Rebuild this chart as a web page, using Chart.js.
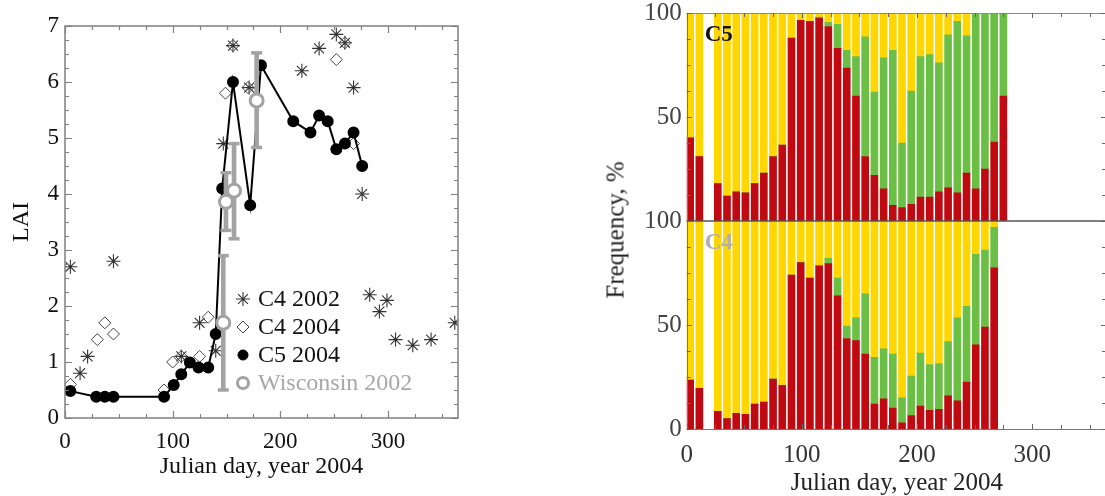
<!DOCTYPE html>
<html><head><meta charset="utf-8">
<script src="https://cdn.jsdelivr.net/npm/chart.js@4.4.1/dist/chart.umd.min.js"></script>
<style>
html,body{margin:0;padding:0;background:#fff;width:1105px;height:496px;overflow:hidden;position:relative;}
canvas{position:absolute;}
#freq{position:absolute;left:615px;top:230px;transform:translate(-50%,-50%) rotate(-90deg);font:25px "Liberation Serif","Times New Roman",serif;color:#222;white-space:nowrap;line-height:1;}
</style></head><body>
<canvas id="lai" width="470" height="496" style="left:0;top:0"></canvas>
<canvas id="c5" width="530" height="221" style="left:590px;top:0"></canvas>
<canvas id="c4" width="530" height="296" style="left:590px;top:200px"></canvas>
<div id="freq">Frequency, %</div>
<script>
// ---------- Left panel data (LAI) ----------
const c5Days = [5, 29, 37, 45, 92, 101, 108, 116, 124, 133, 140, 146, 156, 172, 182, 212, 228, 236, 244, 252, 260, 268, 276];
const c5Lai  = [0.48, 0.38, 0.38, 0.38, 0.38, 0.59, 0.78, 0.99, 0.9, 0.9, 1.5, 4.1, 6.0, 3.8, 6.3, 5.3, 5.1, 5.4, 5.3, 4.8, 4.9, 5.1, 4.5];
const c4y04Days = [5, 30, 37, 45, 92, 100, 108, 125, 133, 149, 156, 170, 252, 260, 268];
const c4y04Lai  = [0.6, 1.4, 1.7, 1.5, 0.5, 1.0, 1.1, 1.1, 1.8, 5.8, 6.65, 5.9, 6.4, 6.7, 4.9];
const c4y02Days = [5, 14, 21, 45, 108, 125, 140, 147, 156, 171, 220, 236, 252, 260, 268, 276, 283, 292, 299, 307, 323, 340, 362];
const c4y02Lai  = [2.7, 0.8, 1.1, 2.8, 1.1, 1.7, 1.2, 4.9, 6.65, 5.9, 6.2, 6.6, 6.85, 6.7, 5.9, 4.0, 2.2, 1.9, 2.1, 1.4, 1.3, 1.4, 1.7];
const wisDays = [147, 149.5, 157, 178];
const wisLai  = [1.7, 3.86, 4.06, 5.67];
const wisLo   = [0.5, 3.35, 3.2, 4.83];
const wisHi   = [2.9, 4.38, 4.9, 6.52];
const laiXTicks = [0, 100, 200, 300];
const laiYTicks = [0, 1, 2, 3, 4, 5, 6, 7];
const legendLabels = ['C4 2002', 'C4 2004', 'C5 2004', 'Wisconsin 2002'];

// ---------- Right panels data (frequency, %) ----------
const barDays = [3, 11, 19, 27, 35, 43, 51, 59, 67, 75, 83, 91, 99, 107, 115, 123, 131, 139, 147, 155, 163, 171, 179, 187, 195, 203, 211, 219, 227, 235, 243, 251, 259, 267, 275];
const c5Red    = [40, 31, null, 18, 12, 14, 13.5, 18, 23, 31, 36.5, 88, 96.5, 96, 97.5, 93.5, 83, 73.5, 60, 31, 22, 15.5, 7.5, 6.5, 8, 11.5, 11.5, 14, 16, 13.5, 23, 15.5, 25, 38, 60];
const c5Green  = [0, 0, null, 0, 0, 0, 0, 0, 0, 0, 0, 0, 0, 0, 0.5, 2, 11.5, 8.5, 19, 57.5, 40, 63, 74.5, 31, 54.5, 67.5, 68.5, 62, 73.5, 82.5, 66, 84, 75, 62, 40];
const c5Yellow = [60, 69, null, 82, 88, 86, 86.5, 82, 77, 69, 63.5, 12, 3.5, 4, 2, 4.5, 5.5, 18, 21, 11.5, 38, 21.5, 18, 62.5, 37.5, 21, 20, 24, 10.5, 4, 11, 0.5, 0, 0, 0];
const c4Red    = [23.5, 19.5, null, 8.5, 5, 7.5, 7, 12, 13, 24, 21, 74, 80, 72.5, 78.5, 79.5, 64, 43.5, 42.5, 36, 12, 14.5, 10, 3, 6.5, 11, 9, 9.5, 16, 13.5, 22.5, 40.5, 49, 77.5, null];
const c4Green  = [0, 0, null, 0, 0, 0, 0, 0, 0, 0, 0, 0, 0, 0, 0, 2.5, 8.5, 6, 11, 29, 22.5, 24, 26, 12, 19, 25.5, 22, 22, 26, 40, 36.5, 43.5, 37, 19.5, null];
const c4Yellow = [76.5, 80.5, null, 91.5, 95, 92.5, 93, 88, 87, 76, 79, 26, 20, 27.5, 21.5, 18, 27.5, 50.5, 46.5, 35, 65.5, 61.5, 64, 85, 74.5, 63.5, 69, 68.5, 58, 46.5, 41, 16, 14, 3, null];
const freqXTicks = [0, 100, 200, 300];
const freqYTicks = [0, 50, 100];

const SERIF = "'Liberation Serif', 'Times New Roman', serif";
Chart.defaults.font.family = SERIF;

const GRAY = '#a3a3a3';
function pts(xs, ys) { return xs.map((x, i) => ({x: x, y: ys[i]})); }
function noPad(s) { s.paddingTop = 0; s.paddingBottom = 0; s.paddingLeft = 0; s.paddingRight = 0; }

function drawSym(ctx, style, radius, bw, stroke, fill, x, y) {
  ctx.save();
  ctx.strokeStyle = stroke; ctx.fillStyle = fill; ctx.lineWidth = bw;
  Chart.helpers.drawPoint(ctx, {pointStyle: style, radius: radius, borderWidth: bw, rotation: 0}, x, y);
  ctx.restore();
}

function inwardTicks(ctx, chart, cfg) {
  const a = chart.chartArea, xs = chart.scales.x, ys = chart.scales.y;
  ctx.save();
  ctx.strokeStyle = cfg.color; ctx.lineWidth = cfg.width || 1;
  ctx.beginPath();
  for (let v = xs.min; v <= xs.max + 1e-9; v += cfg.xStep) {
    const px = Math.round(xs.getPixelForValue(v)) + 0.5;
    const len = (Math.abs(v % cfg.xMajor) < 1e-9) ? cfg.majorLen : cfg.minorLen;
    if (cfg.bottom) { ctx.moveTo(px, a.bottom); ctx.lineTo(px, a.bottom - len); }
    if (cfg.top) { ctx.moveTo(px, a.top); ctx.lineTo(px, a.top + len); }
  }
  for (let v = ys.min; v <= ys.max + 1e-9; v += cfg.yStep) {
    const py = Math.round(ys.getPixelForValue(v)) + 0.5;
    const len = (Math.abs(v % cfg.yMajor) < 1e-9) ? cfg.majorLen : cfg.minorLen;
    if (cfg.left) { ctx.moveTo(a.left, py); ctx.lineTo(a.left + len, py); }
    if (cfg.right) { const rx = cfg.rightX !== undefined ? cfg.rightX : a.right; ctx.moveTo(rx, py); ctx.lineTo(rx - len, py); }
  }
  ctx.stroke();
  ctx.restore();
}

// ---------- Left chart ----------
const laiDecor = {
  id: 'laiDecor',
  afterDatasetsDraw(chart) {
    const ctx = chart.ctx, a = chart.chartArea;
    ctx.save();
    ctx.strokeStyle = '#808080'; ctx.lineWidth = 1.5;
    ctx.strokeRect(a.left, a.top, a.right - a.left, a.bottom - a.top);
    ctx.restore();
    inwardTicks(ctx, chart, {color: '#808080', width: 1.2, xStep: 25, xMajor: 100, yStep: 0.25, yMajor: 1,
      majorLen: 7, minorLen: 4, top: true, bottom: true, left: true, right: true});
    // legend
    const sx = 243, tx = 258, rows = [299, 327, 355, 383];
    drawSym(ctx, 'star', 7, 1.1, '#333', 'rgba(0,0,0,0)', sx, rows[0]);
    drawSym(ctx, 'rectRot', 6, 1, '#444', 'rgba(0,0,0,0)', sx, rows[1]);
    drawSym(ctx, 'circle', 5, 1, '#000', '#000', sx, rows[2]);
    drawSym(ctx, 'circle', 5.5, 3, GRAY, '#fff', sx, rows[3]);
    ctx.save();
    ctx.font = '24px ' + SERIF; ctx.textBaseline = 'middle'; ctx.textAlign = 'left';
    legendLabels.forEach((t, i) => {
      ctx.fillStyle = i === 3 ? '#a8a8a8' : '#111';
      ctx.fillText(t, tx, rows[i] + 1);
    });
    ctx.restore();
  }
};

new Chart(document.getElementById('lai'), {
  type: 'scatter',
  data: {
    datasets: [
      {label: 'Wisconsin 2002', data: pts(wisDays, wisLai), pointStyle: 'circle', pointRadius: 6.5,
       pointBorderWidth: 3, pointBorderColor: GRAY, pointBackgroundColor: '#fff', order: 0},
      {label: 'caps low', data: pts(wisDays, wisLo), pointStyle: 'line', pointRadius: 5.5,
       pointBorderWidth: 3.5, pointBorderColor: GRAY, order: 1},
      {label: 'caps high', data: pts(wisDays, wisHi), pointStyle: 'line', pointRadius: 5.5,
       pointBorderWidth: 3.5, pointBorderColor: GRAY, order: 1},
      {type: 'bar', label: 'err', data: wisDays.map((d, i) => ({x: d, y: [wisLo[i], wisHi[i]]})),
       backgroundColor: GRAY, barThickness: 4, order: 2},
      {label: 'C5 2004', data: pts(c5Days, c5Lai), showLine: true, borderColor: '#000', borderWidth: 2,
       tension: 0, pointRadius: 5, pointBackgroundColor: '#000', pointBorderColor: '#000', order: 3},
      {label: 'C4 2004', data: pts(c4y04Days, c4y04Lai), pointStyle: 'rectRot', pointRadius: 6,
       pointBorderWidth: 1, pointBorderColor: '#444', pointBackgroundColor: 'rgba(0,0,0,0)', order: 4},
      {label: 'C4 2002', data: pts(c4y02Days, c4y02Lai), pointStyle: 'star', pointRadius: 7,
       pointBorderWidth: 1.1, pointBorderColor: '#333', pointBackgroundColor: '#333', order: 5}
    ]
  },
  options: {
    responsive: false, animation: false, devicePixelRatio: 1,
    layout: {padding: {top: 26, right: 12, left: 0, bottom: 0}},
    plugins: {legend: {display: false}, tooltip: {enabled: false}},
    scales: {
      x: {type: 'linear', min: 0, max: 365, offset: false,
          afterBuildTicks(s) { s.ticks = laiXTicks.map(v => ({value: v})); },
          afterFit(s) { s.height = 78; noPad(s); },
          grid: {display: false, drawTicks: false}, border: {display: false},
          ticks: {font: {size: 23}, color: '#111', padding: 10, maxRotation: 0, autoSkip: false},
          title: {display: true, text: 'Julian day, year 2004', font: {size: 24}, color: '#111', padding: {top: 0, bottom: 15}}},
      y: {type: 'linear', min: 0, max: 7,
          afterBuildTicks(s) { s.ticks = laiYTicks.map(v => ({value: v})); },
          afterFit(s) { s.width = 65; noPad(s); },
          grid: {display: false, drawTicks: false}, border: {display: false},
          ticks: {font: {size: 23}, color: '#111', padding: 6},
          title: {display: true, text: 'LAI', font: {size: 24}, color: '#111', padding: {top: 7, bottom: 0}}}
    }
  },
  plugins: [laiDecor]
});

// ---------- Right charts ----------
const RED = '#c00a12', GREEN = '#6cbf45', YELLOW = '#ffd600';
function freqChart(id, red, green, yellow, o) {
  const decor = {
    id: 'decor' + id,
    afterDatasetsDraw(chart) {
      const ctx = chart.ctx, a = chart.chartArea, W = chart.width;
      ctx.save();
      ctx.lineWidth = 1;
      if (o.upper) {
        ctx.strokeStyle = '#8a8a8a';
        ctx.beginPath(); ctx.moveTo(a.left, a.top + 0.5); ctx.lineTo(W, a.top + 0.5); ctx.stroke();
      } else {
        ctx.strokeStyle = '#555'; ctx.lineWidth = 1.5;
        ctx.beginPath(); ctx.moveTo(a.left, a.top); ctx.lineTo(W, a.top); ctx.stroke();
        ctx.strokeStyle = '#777'; ctx.lineWidth = 1;
        ctx.beginPath(); ctx.moveTo(a.left, a.bottom + 0.5); ctx.lineTo(W, a.bottom + 0.5); ctx.stroke();
      }
      ctx.strokeStyle = '#777';
      ctx.beginPath(); ctx.moveTo(Math.round(a.left) + 0.5, a.top); ctx.lineTo(Math.round(a.left) + 0.5, a.bottom); ctx.stroke();
      ctx.restore();
      inwardTicks(ctx, chart, {color: '#666', width: 1, xStep: 25, xMajor: 100, yStep: 12.5, yMajor: 50,
        majorLen: 5, minorLen: 4, top: o.upper, bottom: !o.upper, left: true, right: true, rightX: 516});
      ctx.save();
      ctx.font = 'bold 23px ' + SERIF; ctx.textBaseline = 'middle'; ctx.textAlign = 'left';
      ctx.fillStyle = o.labelColor;
      ctx.fillText(o.label, a.left + 18, a.top + o.labelDy);
      ctx.restore();
    }
  };
  const mk = (arr) => barDays.map((d, i) => ({x: d, y: arr[i]}));
  return new Chart(document.getElementById(id), {
    type: 'bar',
    data: {datasets: [
      {label: 'red', data: mk(red), backgroundColor: RED, barThickness: 7, borderWidth: 0},
      {label: 'green', data: mk(green), backgroundColor: GREEN, barThickness: 7, borderWidth: 0},
      {label: 'yellow', data: mk(yellow), backgroundColor: YELLOW, barThickness: 7, borderWidth: 0}
    ]},
    options: {
      responsive: false, animation: false, devicePixelRatio: 1,
      layout: {padding: {top: o.topPad, right: 13, left: 0, bottom: 0}},
      plugins: {legend: {display: false}, tooltip: {enabled: false}},
      scales: {
        x: {type: 'linear', min: 0, max: 365, offset: false, stacked: true,
            afterBuildTicks(s) { s.ticks = freqXTicks.map(v => ({value: v})); },
            afterFit(s) { s.height = o.xHeight; noPad(s); },
            grid: {display: false, drawTicks: false}, border: {display: false},
            ticks: {display: !o.upper, font: {size: 25}, color: '#333', padding: 11, maxRotation: 0, autoSkip: false},
            title: {display: !o.upper, text: 'Julian day, year 2004', font: {size: 25, lineHeight: 1}, color: '#222', padding: {top: 0, bottom: 0}}},
        y: {type: 'linear', min: 0, max: 100, stacked: true,
            afterBuildTicks(s) { s.ticks = freqYTicks.map(v => ({value: v})); },
            afterFit(s) { s.width = 96.7; noPad(s); },
            grid: {display: false, drawTicks: false}, border: {display: false},
            ticks: {font: {size: 25}, color: '#444', padding: 5,
                    callback: (v) => (o.upper && v === 0) ? '' : String(v)}}
      }
    },
    plugins: [decor]
  });
}

freqChart('c5', c5Red, c5Green, c5Yellow, {upper: true, topPad: 13, xHeight: 0, label: 'C5', labelColor: '#111', labelDy: 22});
freqChart('c4', c4Red, c4Green, c4Yellow, {upper: false, topPad: 21, xHeight: 67, label: 'C4', labelColor: '#b0b0b0', labelDy: 22});
</script>
</body></html>
